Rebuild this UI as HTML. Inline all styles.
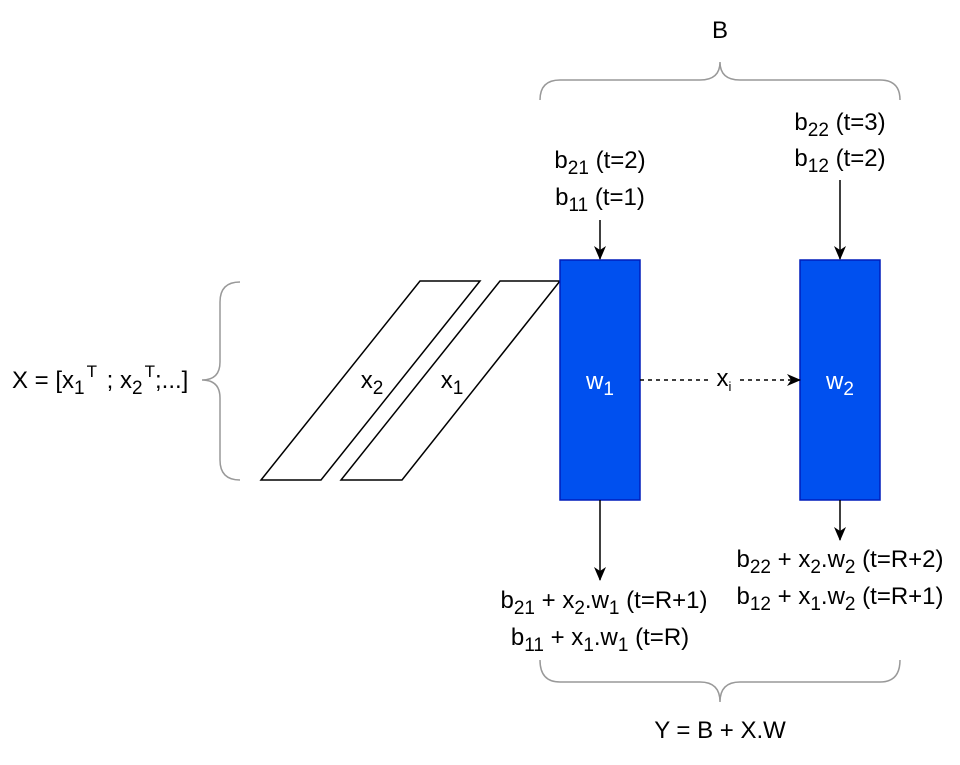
<!DOCTYPE html>
<html><head><style>
body{margin:0;background:#fff}
svg text{font-family:"Liberation Sans",Arial,sans-serif;font-size:24px;fill:#000}
</style></head><body>
<svg width="960" height="760" viewBox="0 0 960 760" xmlns="http://www.w3.org/2000/svg">
<defs><marker id="a" markerWidth="14" markerHeight="14" refX="13" refY="7" orient="auto" markerUnits="userSpaceOnUse"><path d="M0,1 L14,7 L0,13 L4,7 Z" fill="#000"/></marker></defs>
<g fill="none" stroke="#999" stroke-width="1.5">
<path d="M540,100 Q540,80 560,80 L700,80 Q720,80 720,62 Q720,80 740,80 L880,80 Q900,80 900,100"/>
<path d="M540,660 Q540,682 560,682 L700,682 Q720,682 720,702 Q720,682 740,682 L880,682 Q900,682 900,660"/>
<path d="M240,282 Q220,282 220,302 L220,362 Q220,380 202,380 Q220,380 220,398 L220,460 Q220,480 240,480"/>
</g>
<polygon points="420,281 480,281 321,480 261,480" fill="#fff" stroke="#000" stroke-width="1.5"/>
<polygon points="500,281 560,281 402,480 341,480" fill="#fff" stroke="#000" stroke-width="1.5"/>
<rect x="560" y="260" width="80" height="240" fill="#0050EF" stroke="#001DBC" stroke-width="1.5"/>
<rect x="800" y="260" width="80" height="240" fill="#0050EF" stroke="#001DBC" stroke-width="1.5"/>
<g stroke="#000" stroke-width="1.5" fill="none">
<line x1="600" y1="220" x2="600" y2="259" marker-end="url(#a)"/>
<line x1="840" y1="180" x2="840" y2="259" marker-end="url(#a)"/>
<line x1="600" y1="500" x2="600" y2="580" marker-end="url(#a)"/>
<line x1="840" y1="500" x2="840" y2="540" marker-end="url(#a)"/>
<line x1="640" y1="380" x2="710" y2="380" stroke-dasharray="4,4"/>
<line x1="740" y1="380" x2="800" y2="380" stroke-dasharray="4,4" marker-end="url(#a)"/>
</g>
<g text-anchor="middle">
<text x="720" y="38" font-size="21">B</text>
<text x="600" y="168">b<tspan font-size="19" dy="6">21</tspan><tspan dy="-6"> (t=2)</tspan></text>
<text x="600" y="205">b<tspan font-size="19" dy="6">11</tspan><tspan dy="-6"> (t=1)</tspan></text>
<text x="840" y="130">b<tspan font-size="19" dy="6">22</tspan><tspan dy="-6"> (t=3)</tspan></text>
<text x="840" y="166">b<tspan font-size="19" dy="6">12</tspan><tspan dy="-6"> (t=2)</tspan></text>
<text x="600" y="389" style="fill:#fff">w<tspan font-size="19" dy="6" style="fill:#fff">1</tspan></text>
<text x="840" y="389" style="fill:#fff">w<tspan font-size="19" dy="6" style="fill:#fff">2</tspan></text>
<text x="724" y="386" font-size="20">x<tspan font-size="13" dy="5">i</tspan></text>
<text x="372" y="388">x<tspan font-size="19" dy="6">2</tspan></text>
<text x="452" y="388">x<tspan font-size="19" dy="6">1</tspan></text>
<text x="604" y="608">b<tspan font-size="19" dy="6">21</tspan><tspan dy="-6"> + x</tspan><tspan font-size="19" dy="6">2</tspan><tspan dy="-6">.w</tspan><tspan font-size="19" dy="6">1</tspan><tspan dy="-6"> (t=R+1)</tspan></text>
<text x="600" y="645">b<tspan font-size="19" dy="6">11</tspan><tspan dy="-6"> + x</tspan><tspan font-size="19" dy="6">1</tspan><tspan dy="-6">.w</tspan><tspan font-size="19" dy="6">1</tspan><tspan dy="-6"> (t=R)</tspan></text>
<text x="840" y="567">b<tspan font-size="19" dy="6">22</tspan><tspan dy="-6"> + x</tspan><tspan font-size="19" dy="6">2</tspan><tspan dy="-6">.w</tspan><tspan font-size="19" dy="6">2</tspan><tspan dy="-6"> (t=R+2)</tspan></text>
<text x="840" y="604">b<tspan font-size="19" dy="6">12</tspan><tspan dy="-6"> + x</tspan><tspan font-size="19" dy="6">1</tspan><tspan dy="-6">.w</tspan><tspan font-size="19" dy="6">2</tspan><tspan dy="-6"> (t=R+1)</tspan></text>
<text x="720" y="738">Y = B + X.W</text>
</g>
<text x="12" y="388">X = [x<tspan font-size="19" dy="6">1</tspan><tspan font-size="17" dy="-17" dx="2">T</tspan><tspan dy="11" dx="3"> ; x</tspan><tspan font-size="19" dy="6">2</tspan><tspan font-size="17" dy="-17" dx="2">T</tspan><tspan dy="11">;...]</tspan></text>
</svg>
</body></html>
